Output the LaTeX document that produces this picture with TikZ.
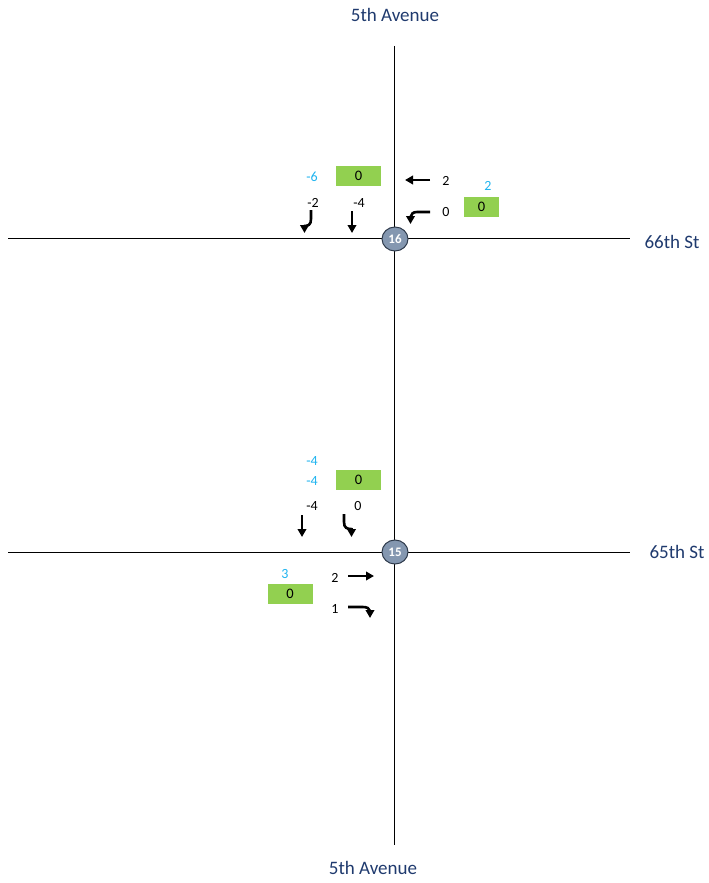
\documentclass[tikz,border=0pt]{standalone}
\usepackage{fontspec}
\setmainfont{Carlito}
\usetikzlibrary{arrows.meta,shapes.geometric}
\definecolor{streetblue}{HTML}{1F3A6E}
\definecolor{numblue}{HTML}{1FB4F0}
\definecolor{boxgreen}{HTML}{92D050}
\definecolor{nodefill}{HTML}{8497B0}
\definecolor{nodeedge}{HTML}{2F3B4C}
\tikzset{
  road/.style={line width=1pt, black},
  streetlbl/.style={font=\fontsize{19}{22}\selectfont, text=streetblue, inner sep=0pt},
  blue num/.style={font=\fontsize{14}{16}\selectfont, text=numblue, inner sep=0pt},
  black num/.style={font=\fontsize{14}{16}\selectfont, text=black, inner sep=0pt},
  greenbox/.style={fill=boxgreen, minimum width=45pt, minimum height=20pt, inner sep=0pt, font=\fontsize{14.5}{16}\selectfont},
  isect/.style={ellipse, fill=nodefill, draw=nodeedge, line width=1pt, minimum width=26pt, minimum height=24pt, inner sep=0pt, text=white, font=\bfseries\fontsize{13}{14}\selectfont},
  mvstroke/.style={line width=2.6pt},
  mvarrow/.style={line width=2.6pt, -{Triangle[length=8pt,width=8.5pt]}}
}
\begin{document}
\begin{tikzpicture}[x=1pt,y=-1pt]
\useasboundingbox[fill=white] (0,0) rectangle (709,883);
% roads
\coordinate (vTop) at (394,46);
\coordinate (vBot) at (394,845);
\coordinate (h66L) at (8,238);
\coordinate (h66R) at (630,238);
\coordinate (h65L) at (8,552);
\coordinate (h65R) at (630,552);
\draw[road] (vTop) -- (vBot);
\draw[road] (h66L) -- (h66R);
\draw[road] (h65L) -- (h65R);
% street labels
\node[streetlbl] (aveTop) at (395,15) {5th Avenue};
\node[streetlbl] (aveBot) at (373,868) {5th Avenue};
\node[streetlbl] (st66) at (672,242) {66th St};
\node[streetlbl] (st65) at (677,552) {65th St};
% intersections
\node[isect] (i16) at (395,239) {16};
\node[isect] (i15) at (395,552) {15};
% ---- intersection 16 ----
\node[greenbox] (g16a) at (358.5,176) {0};
\node[greenbox, minimum width=35pt] (g16b) at (481.5,207) {0};
\node[blue num] (b16a) at (312,177) {-6};
\node[blue num] (b16b) at (488,186) {2};
\node[black num] (n16a) at (313,203) {-2};
\node[black num] (n16b) at (359,203) {-4};
\node[black num] (n16c) at (446,181) {2};
\node[black num] (n16d) at (446,212) {0};
% southbound right turn
\draw[mvstroke] (311,210) -- (311,219) .. controls (311,225) and (308,226) .. (304,226);
\draw[mvarrow] (304.5,224.6) -- (304.5,233);
% southbound through
\draw[mvarrow] (352,211) -- (352,233);
% westbound through
\draw[mvarrow] (430,180) -- (405,180);
% westbound left turn
\draw[mvstroke] (430,212) -- (417,212) .. controls (413,212) and (411,214) .. (410.5,217);
\draw[mvarrow] (410.5,215.5) -- (410.5,224);
% ---- intersection 15 ----
\node[greenbox] (g15a) at (358.5,480) {0};
\node[greenbox] (g15b) at (290,594) {0};
\node[blue num] (b15a) at (312,461) {-4};
\node[blue num] (b15b) at (312,481) {-4};
\node[blue num] (b15c) at (285,574) {3};
\node[black num] (n15a) at (312,506) {-4};
\node[black num] (n15b) at (358,506) {0};
\node[black num] (n15c) at (335,578) {2};
\node[black num] (n15d) at (335,609) {1};
% southbound through
\draw[mvarrow] (302,515) -- (302,537);
% southbound left turn
\draw[mvstroke] (344,514) -- (344,522) .. controls (344,528) and (347,529) .. (351.5,529);
\draw[mvarrow] (351.5,527.6) -- (351.5,537);
% eastbound through
\draw[mvarrow] (348,576) -- (374,576);
% eastbound right turn
\draw[mvstroke] (348,607) -- (363,607) .. controls (367,607) and (369.5,608.5) .. (370,611);
\draw[mvarrow] (370,609.5) -- (370,618);
\end{tikzpicture}
\end{document}
